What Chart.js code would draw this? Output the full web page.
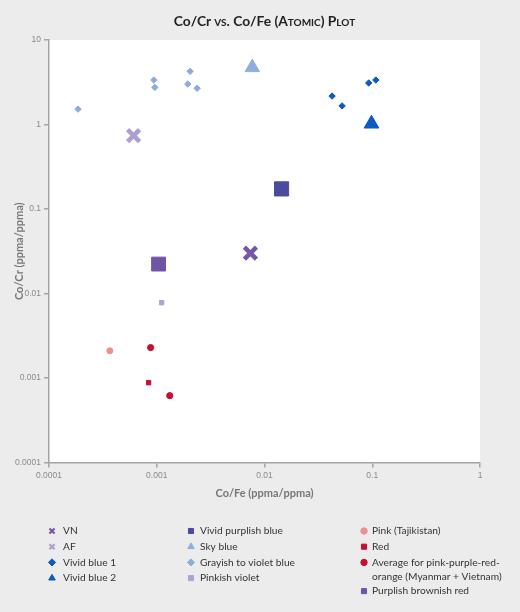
<!DOCTYPE html>
<html>
<head>
<meta charset="utf-8">
<script src="https://cdn.jsdelivr.net/npm/chart.js@4/dist/chart.umd.min.js"></script>
<style>
  html, body { margin:0; padding:0; background:#ebeceb; }
  #wrap { position:relative; width:520px; height:612px; background:#ebeceb; }
  #title { position:absolute; left:0; top:10px; width:529px; text-align:center; font-family:Lato, sans-serif; font-weight:bold; font-size:13.8px; color:#222; line-height:22px; }
  .sc { font-variant: small-caps; }
  canvas { position:absolute; left:0; top:0; }
</style>
</head>
<body>
<div id="wrap">
  <canvas id="c" width="520" height="612"></canvas>
  <div id="title">Co/Cr <span class="sc">vs.</span> Co/Fe <span class="sc">(Atomic) Plot</span></div>
</div>
<script>
// ---- data (Co/Fe on x, Co/Cr on y) ----
const xTickValues = [0.0001, 0.001, 0.01, 0.1, 1];
const yTickValues = [0.0001, 0.001, 0.01, 0.1, 1, 10];

const vnX = [0.0074];               const vnY = [0.030];
const afX = [0.00061];              const afY = [0.74];
const vividBlue1X = [0.0424, 0.0525, 0.0927, 0.108];
const vividBlue1Y = [2.17, 1.66, 3.10, 3.36];
const vividBlue2X = [0.0984];       const vividBlue2Y = [1.02];
const vividPurplishBlueX = [0.0144]; const vividPurplishBlueY = [0.173];
const skyBlueX = [0.0077];          const skyBlueY = [4.73];
const grayishVioletBlueX = [0.000186, 0.00094, 0.00096, 0.00204, 0.00194, 0.00237];
const grayishVioletBlueY = [1.52, 3.36, 2.75, 4.26, 3.01, 2.68];
const pinkishVioletX = [0.00111];   const pinkishVioletY = [0.00778];
const pinkTajikistanX = [0.000367]; const pinkTajikistanY = [0.0021];
const redX = [0.00084];             const redY = [0.00088];
const averagePPROX = [0.000877, 0.00132];
const averagePPROY = [0.00229, 0.000618];
const purplishBrownishRedX = [0.00104]; const purplishBrownishRedY = [0.0223];

const pts = (xs, ys) => xs.map((x, i) => ({x: x, y: ys[i]}));

// label, data, style, plot radius, border width, color, legend radius, legend border width
const series = [
  ['VN', pts(vnX, vnY), 'crossRot', 8.5, 4.6, '#7559a8', 3.6, 2.2],
  ['AF', pts(afX, afY), 'crossRot', 8.5, 4.6, '#ae9fd2', 3.6, 2.2],
  ['Vivid blue 1', pts(vividBlue1X, vividBlue1Y), 'rectRot', 3.2, 1, '#0b5cbe', 3.6, 1],
  ['Vivid blue 2', pts(vividBlue2X, vividBlue2Y), 'triangle', 8.5, 1, '#0b5cbe', 3.8, 1],
  ['Vivid purplish blue', pts(vividPurplishBlueX, vividPurplishBlueY), 'rect', 10, 1, '#4a4aa0', 3.6, 1],
  ['Sky blue', pts(skyBlueX, skyBlueY), 'triangle', 8.3, 1, '#8eaee0', 3.8, 1],
  ['Grayish to violet blue', pts(grayishVioletBlueX, grayishVioletBlueY), 'rectRot', 3.2, 1, '#8eaadf', 3.6, 1],
  ['Pinkish violet', pts(pinkishVioletX, pinkishVioletY), 'rect', 3.1, 1, '#aaa6cf', 3.6, 1],
  ['Pink (Tajikistan)', pts(pinkTajikistanX, pinkTajikistanY), 'circle', 3, 1, '#ef8f8f', 3.2, 1],
  ['Red', pts(redX, redY), 'rect', 3.1, 1, '#c8102e', 3.6, 1],
  [['Average for pink-purple-red-', 'orange (Myanmar + Vietnam)'], pts(averagePPROX, averagePPROY), 'circle', 3.1, 1, '#c8102e', 3.2, 1],
  ['Purplish brownish red', pts(purplishBrownishRedX, purplishBrownishRedY), 'rect', 9.8, 1, '#6f55a6', 3.6, 1]
];

const datasets = series.map(s => ({
  label: s[0],
  data: s[1],
  pointStyle: s[2],
  pointRadius: s[3],
  pointBorderWidth: s[4],
  backgroundColor: s[5],
  borderColor: s[5],
  legendRadius: s[6],
  legendBorderWidth: s[7],
  showLine: false
}));

const fmt = v => String(v);

const bgPlugin = {
  id: 'plotBg',
  beforeDraw(chart) {
    const {ctx, chartArea: a} = chart;
    ctx.save();
    ctx.fillStyle = '#ffffff';
    ctx.fillRect(a.left, a.top, a.right - a.left, a.bottom - a.top);
    ctx.restore();
  }
};

const legendPlugin = {
  id: 'columnLegend',
  afterDraw(chart) {
    const ctx = chart.ctx;
    const cols = [
      {mx: 52, tx: 63, items: [0, 1, 2, 3]},
      {mx: 191, tx: 200, items: [4, 5, 6, 7]},
      {mx: 364, tx: 372, items: [8, 9, 10, 11]}
    ];
    ctx.save();
    ctx.font = '10.2px Lato';
    ctx.textBaseline = 'middle';
    ctx.textAlign = 'left';
    cols.forEach(col => {
      let y = 531;
      col.items.forEach(i => {
        const ds = chart.data.datasets[i];
        ctx.fillStyle = ds.backgroundColor;
        ctx.strokeStyle = ds.borderColor;
        ctx.lineWidth = ds.legendBorderWidth;
        Chart.helpers.drawPoint(ctx, {
          pointStyle: ds.pointStyle,
          radius: ds.legendRadius,
          borderWidth: ds.legendBorderWidth,
          rotation: 0
        }, col.mx, y);
        const lines = Array.isArray(ds.label) ? ds.label : [ds.label];
        ctx.fillStyle = '#333333';
        lines.forEach((ln, k) => ctx.fillText(ln, col.tx, y + k * 14.2));
        y += 15.7 + (lines.length - 1) * 13;
      });
    });
    ctx.restore();
  }
};

const axisCommon = {
  type: 'logarithmic',
  ticks: {
    callback: v => fmt(v),
    font: {family: 'Liberation Sans', size: 8.5},
    color: '#8a8a8a',
    padding: 3,
    autoSkip: false,
    maxRotation: 0
  },
  grid: {display: true, drawOnChartArea: false, drawTicks: true, tickLength: 5, color: '#a4a4a4', lineWidth: 1.5},
  border: {display: true, color: '#a4a4a4', width: 1.5}
};

new Chart(document.getElementById('c'), {
  type: 'scatter',
  data: {datasets},
  options: {
    responsive: false,
    animation: false,
    devicePixelRatio: 1,
    layout: {padding: {top: 40, right: 40, bottom: 100, left: 0}},
    plugins: {legend: {display: false}, tooltip: {enabled: false}},
    scales: {
      x: Object.assign({}, axisCommon, {
        position: 'bottom',
        min: 0.0001, max: 1,
        afterBuildTicks: s => { s.ticks = xTickValues.map(v => ({value: v})); },
        afterFit: s => { s.height = 49.5; },
        title: {display: true, text: 'Co/Fe (ppma/ppma)', color: '#777777',
                font: {family: 'Lato', size: 11, weight: 'bold'}, padding: {top: 0, bottom: 12}}
      }),
      y: Object.assign({}, axisCommon, {
        position: 'left',
        min: 0.0001, max: 10,
        afterBuildTicks: s => { s.ticks = yTickValues.map(v => ({value: v})); },
        afterFit: s => { s.width = 49; },
        title: {display: true, text: 'Co/Cr (ppma/ppma)', color: '#777777',
                font: {family: 'Lato', size: 11, weight: 'bold'}, padding: {top: 13, bottom: 0}}
      })
    }
  },
  plugins: [bgPlugin, legendPlugin]
});
</script>
</body>
</html>
